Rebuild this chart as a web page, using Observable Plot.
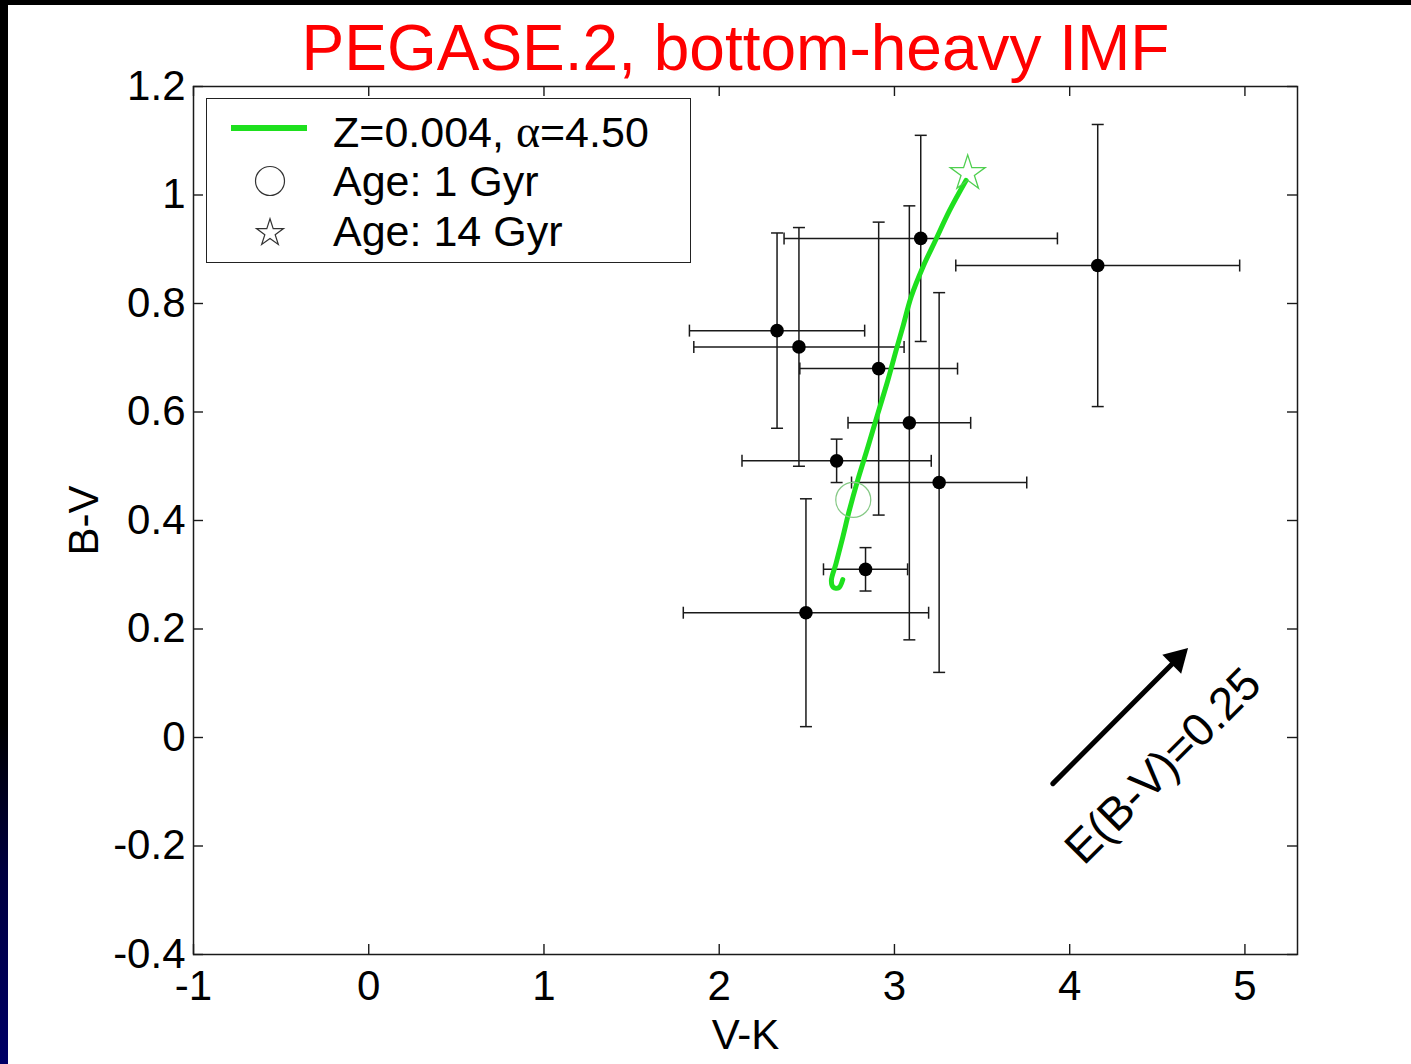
<!DOCTYPE html>
<html>
<head>
<meta charset="utf-8">
<script src="https://cdn.jsdelivr.net/npm/d3@7"></script>
<script src="https://cdn.jsdelivr.net/npm/@observablehq/plot@0.6"></script>
<style>
  html, body { margin: 0; padding: 0; }
  body { width: 1411px; height: 1064px; overflow: hidden; position: relative;
         background: linear-gradient(to bottom, #000 0%, #000 68%, #000040 82%, #000066 100%);
         font-family: "Liberation Sans", Arial, sans-serif; }
  #page { position: absolute; left: 8px; top: 5px; width: 1403px; height: 1059px; background: #fff; }
  #title { height: 75px; box-sizing: border-box; padding-top: 11px; padding-left: 52px;
           font-size: 64px; line-height: 64px; text-align: center; color: #f00; white-space: nowrap; }
  #legend { position: absolute; left: 198px; top: 93px; width: 485px; height: 165px; box-sizing: border-box;
            border: 1.5px solid #222; background: #fff; }
  #legend .row { position: absolute; left: 126px; font-size: 43px; line-height: 43px; color: #000; white-space: nowrap; }
  #legend .greek { font-family: "Liberation Serif", "DejaVu Serif", serif; font-size: 46px; }
  #legend svg { position: absolute; left: 0; top: 0; }
</style>
</head>
<body>
<div id="page">
  <div id="title">PEGASE.2, bottom-heavy IMF</div>
  <div id="chart"></div>
  <div id="legend"></div>
</div>
<script>
// ---- observed clusters (V-K, B-V) with symmetric errors ----
const vk    = [3.15, 4.16, 2.33, 2.455, 2.91, 3.085, 2.67, 3.255, 2.835, 2.495];
const bv    = [0.92, 0.87, 0.75, 0.72, 0.68, 0.58, 0.51, 0.47, 0.31, 0.23];
const vkErr = [0.78, 0.81, 0.50, 0.60, 0.45, 0.35, 0.54, 0.50, 0.24, 0.70];
const bvErr = [0.19, 0.26, 0.18, 0.22, 0.27, 0.40, 0.04, 0.35, 0.04, 0.21];

// ---- PEGASE.2 model track, Z=0.004, alpha=4.50 (young -> old) ----
const trackVK = [2.705, 2.682, 2.651, 2.640, 2.666, 2.705, 2.742, 2.790, 2.848, 2.905, 2.962, 3.009, 3.047, 3.095, 3.162, 3.238, 3.314, 3.409];
const trackBV = [0.291, 0.276, 0.277, 0.289, 0.320, 0.369, 0.418, 0.474, 0.535, 0.597, 0.658, 0.713, 0.756, 0.812, 0.867, 0.919, 0.971, 1.027];

// ---- age markers ----
const ageLabels = ["Age: 1 Gyr", "Age: 14 Gyr"];
const ageVK = [2.765, 3.418];
const ageBV = [0.438, 1.040];

// ---- reddening vector ----
const reddenLabel = "E(B-V)=0.25";
const reddenFrom = [3.904, -0.085];
const reddenTo   = [4.675, 0.165];
const reddenText = [4.534, -0.053];

// ---- axes ----
const xTicks = [-1, 0, 1, 2, 3, 4, 5];
const yTicks = [-0.4, -0.2, 0, 0.2, 0.4, 0.6, 0.8, 1, 1.2];
const xDomain = [-1, 5.3];
const yDomain = [-0.4, 1.2];
const trackLabelParts = ["Z=0.004, ", "\u03b1", "=4.50"];

const green = "#1ee01e";
const obs = vk.map((x, i) => ({x, y: bv[i], ex: vkErr[i], ey: bvErr[i]}));
const track = trackVK.map((x, i) => ({x, y: trackBV[i]}));

const W = 1403, H = 984, ML = 185, MR = 114, MT = 6, MB = 110;
const FW = W - ML - MR, FH = H - MT - MB;
const TICK = 10;

const capV = {draw(ctx) { ctx.moveTo(0, -6); ctx.lineTo(0, 6); }};
const capH = {draw(ctx) { ctx.moveTo(-6, 0); ctx.lineTo(6, 0); }};
const ink = "#1a1a1a";

const chart = Plot.plot({
  width: W, height: H,
  marginLeft: ML, marginRight: MR, marginTop: MT, marginBottom: MB,
  style: {background: "#fff", fontFamily: "Liberation Sans, Arial, sans-serif", color: "#000", overflow: "visible"},
  x: {domain: xDomain},
  y: {domain: yDomain},
  marks: [
    Plot.frame({stroke: ink, strokeWidth: 1.5}),
    // inward ticks on all four sides
    Plot.tickX(xTicks, {x: d => d, insetTop: FH - TICK, stroke: ink, strokeWidth: 1.4}),
    Plot.tickX(xTicks, {x: d => d, insetBottom: FH - TICK, stroke: ink, strokeWidth: 1.4}),
    Plot.tickY(yTicks, {y: d => d, insetRight: FW - TICK, stroke: ink, strokeWidth: 1.4}),
    Plot.tickY(yTicks, {y: d => d, insetLeft: FW - TICK, stroke: ink, strokeWidth: 1.4}),
    Plot.axisX(xTicks, {tickSize: 0, tickPadding: 16, fontSize: 42, tickFormat: d => String(d),
      label: "V-K", labelAnchor: "center", labelArrow: "none", labelOffset: 94}),
    Plot.axisY(yTicks, {tickSize: 0, tickPadding: 8, fontSize: 42, tickFormat: d => String(d),
      label: "B-V", labelAnchor: "center", labelArrow: "none", labelOffset: 125}),
    // error bars
    Plot.link(obs, {x1: d => d.x - d.ex, x2: d => d.x + d.ex, y1: "y", y2: "y", stroke: ink, strokeWidth: 1.5}),
    Plot.link(obs, {x1: "x", x2: "x", y1: d => d.y - d.ey, y2: d => d.y + d.ey, stroke: ink, strokeWidth: 1.5}),
    Plot.dot(obs, {x: d => d.x - d.ex, y: "y", symbol: capV, fill: "none", stroke: ink, strokeWidth: 1.5}),
    Plot.dot(obs, {x: d => d.x + d.ex, y: "y", symbol: capV, fill: "none", stroke: ink, strokeWidth: 1.5}),
    Plot.dot(obs, {x: "x", y: d => d.y - d.ey, symbol: capH, fill: "none", stroke: ink, strokeWidth: 1.5}),
    Plot.dot(obs, {x: "x", y: d => d.y + d.ey, symbol: capH, fill: "none", stroke: ink, strokeWidth: 1.5}),
    // model track
    Plot.line(track, {x: "x", y: "y", stroke: green, strokeWidth: 5, curve: "catmull-rom", strokeLinecap: "round"}),
    // observed points
    Plot.dot(obs, {x: "x", y: "y", r: 6.8, fill: "#000"}),
    // age markers
    Plot.dot([0], {x: () => ageVK[0], y: () => ageBV[0], r: 17.5, fill: "none", stroke: "#86c986", strokeWidth: 1.3}),
    Plot.dot([0], {x: () => ageVK[1], y: () => ageBV[1], r: 11, symbol: "star", fill: "none", stroke: "#4fcf4f", strokeWidth: 1.3}),
    // reddening vector
    Plot.arrow([0], {x1: () => reddenFrom[0], y1: () => reddenFrom[1], x2: () => reddenTo[0], y2: () => reddenTo[1],
      stroke: "#000", strokeWidth: 5, headLength: 0, insetEnd: 14}),
    Plot.dot([0], {x: () => reddenTo[0], y: () => reddenTo[1], symbol: "triangle", r: 9.9, rotate: 45,
      dx: -10.8, dy: 10.8, fill: "#000", stroke: "none"}),
    Plot.text([reddenLabel], {x: () => reddenText[0], y: () => reddenText[1], text: d => d, rotate: -45,
      fontSize: 46, fill: "#000", textAnchor: "middle", lineAnchor: "middle"})
  ]
});
document.getElementById("chart").appendChild(chart);

// ---- legend (inside the axes box) ----
const legend = document.getElementById("legend");
const ns = "http://www.w3.org/2000/svg";
const lsvg = document.createElementNS(ns, "svg");
lsvg.setAttribute("width", 482); lsvg.setAttribute("height", 162);
const ln = document.createElementNS(ns, "line");
ln.setAttribute("x1", 24); ln.setAttribute("x2", 100); ln.setAttribute("y1", 29); ln.setAttribute("y2", 29);
ln.setAttribute("stroke", green); ln.setAttribute("stroke-width", 6);
lsvg.appendChild(ln);
const circ = document.createElementNS(ns, "circle");
circ.setAttribute("cx", 63); circ.setAttribute("cy", 82); circ.setAttribute("r", 14.5);
circ.setAttribute("fill", "none"); circ.setAttribute("stroke", "#333"); circ.setAttribute("stroke-width", 1.2);
lsvg.appendChild(circ);
const star = document.createElementNS(ns, "path");
star.setAttribute("d", d3.symbol(d3.symbolStar, Math.PI * 8.5 * 8.5)());
star.setAttribute("transform", "translate(63,134)");
star.setAttribute("fill", "none"); star.setAttribute("stroke", "#333"); star.setAttribute("stroke-width", 1.2);
lsvg.appendChild(star);
legend.appendChild(lsvg);

const row0 = document.createElement("div");
row0.className = "row";
row0.style.top = "11px";
row0.append(trackLabelParts[0]);
const g = document.createElement("span");
g.className = "greek";
g.textContent = trackLabelParts[1];
row0.append(g, trackLabelParts[2]);
legend.appendChild(row0);
ageLabels.forEach((t, i) => {
  const s = document.createElement("div");
  s.className = "row";
  s.style.top = (61 + 50 * i) + "px";
  s.textContent = t;
  legend.appendChild(s);
});
</script>
</body>
</html>
